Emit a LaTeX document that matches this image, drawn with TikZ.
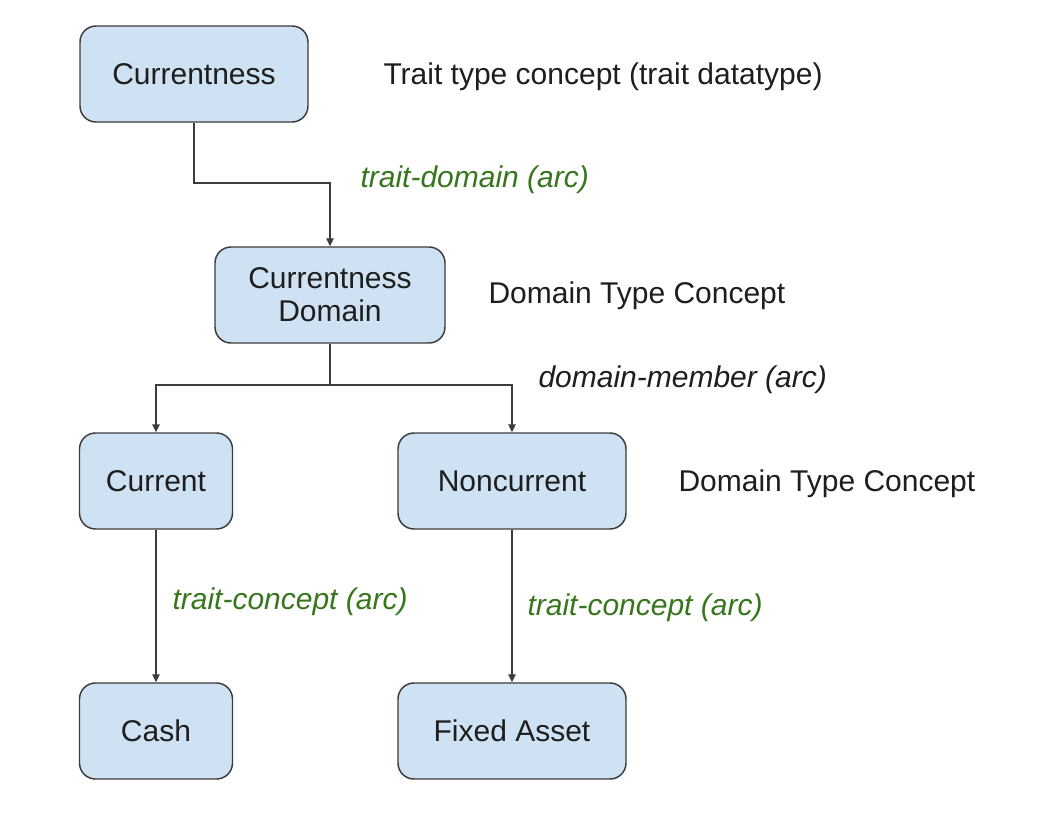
\documentclass[tikz,border=0pt]{standalone}
\usepackage{fontspec}
\setmainfont{Liberation Sans}
\usetikzlibrary{arrows.meta}

\definecolor{boxfill}{RGB}{207,226,243}
\definecolor{boxline}{RGB}{60,60,60}
\definecolor{arcgreen}{RGB}{56,118,29}
\definecolor{inktext}{RGB}{30,30,30}

\tikzset{every picture/.style={line width=0.75pt}}
\tikzset{
  concept/.style={draw=boxline, fill=boxfill, line width=1.1pt, rounded corners=12pt,
    minimum height=72pt, align=center, inner sep=0.75pt, text=inktext,
    font=\fontsize{22.5}{27}\selectfont},
  arc/.style={draw=boxline, line width=1.1pt, -{Triangle[length=6pt,width=5.5pt]}},
  note/.style={anchor=west, inner sep=0pt, text=inktext, font=\fontsize{22.5}{27}\selectfont},
  arclabel/.style={note, text=arcgreen, font=\fontsize{22.5}{27}\selectfont\itshape}
}

\begin{document}
\begin{tikzpicture}[x=0.75pt,y=0.75pt,yscale=-1,xscale=1]
	%set diagram size
	\useasboundingbox (0,0) rectangle (1040,814);
	
	%concept boxes
	\node [concept, minimum width=171pt] (currentness) at (194,74) {Currentness};
	\node [concept, minimum width=172.5pt] (domain) at (330,295) {Currentness\\[-2pt]Domain};
	\node [concept, minimum width=114.75pt] (current) at (156,481) {Current};
	\node [concept, minimum width=171pt] (noncurrent) at (512,481) {Noncurrent};
	\node [concept, minimum width=114.75pt] (cash) at (156,731) {Cash};
	\node [concept, minimum width=171pt] (fixedasset) at (512,731) {Fixed Asset};
	
	%bends
	\coordinate (bendA) at (330,183);
	\coordinate (bendB) at (330,385);
	
	%arcs
	\draw [arc] (currentness.south) |- (bendA) -- (domain.north);
	\draw [draw=boxline, line width=1.1pt] (domain.south) -- (bendB);
	\draw [arc] (bendB) -| (current.north);
	\draw [arc] (bendB) -| (noncurrent.north);
	\draw [arc] (current) -- (cash);
	\draw [arc] (noncurrent) -- (fixedasset);
	
	%texts
	\node [note] (traitnote) at (383,77) {Trait type concept (trait datatype)};
	\node [arclabel] (traitdomain) at (360,180) {trait-domain (arc)};
	\node [note] (domainnote) at (488,296) {Domain Type Concept};
	\node [arclabel, text=inktext] (domainmember) at (538,380) {domain-member (arc)};
	\node [note] (membernote) at (678,484) {Domain Type Concept};
	\node [arclabel] (traitconceptA) at (172,602) {trait-concept (arc)};
	\node [arclabel] (traitconceptB) at (527,608) {trait-concept (arc)};
	
\end{tikzpicture}
\end{document}
